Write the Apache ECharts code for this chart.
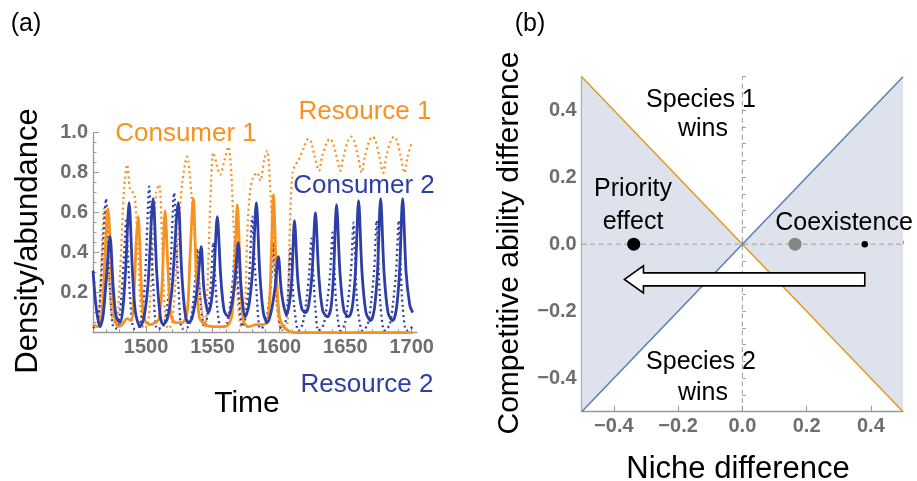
<!DOCTYPE html>
<html><head><meta charset="utf-8">
<script src="https://cdn.jsdelivr.net/npm/echarts@6/dist/echarts.min.js"></script>
<style>html,body{margin:0;padding:0;background:#fff}#c{width:917px;height:481px}</style>
</head><body><div id="c"></div>
<script>
// ---------- Panel (a) data: [time, density] ----------
const consumer1 = [[1460.0,0.04],[1463.8,0.03],[1466.8,0.10],[1469.1,0.40],[1471.3,0.62],[1473.6,0.35],[1475.8,0.10],[1478.9,0.03],[1481.9,0.04],[1485.7,0.07],[1488.7,0.06],[1490.9,0.20],[1492.5,0.45],[1494.0,0.58],[1495.5,0.40],[1497.0,0.15],[1499.2,0.06],[1503.0,0.04],[1506.8,0.05],[1509.8,0.07],[1512.1,0.25],[1514.3,0.61],[1516.6,0.30],[1518.9,0.08],[1522.6,0.05],[1527.2,0.05],[1530.9,0.10],[1533.2,0.40],[1535.5,0.67],[1537.7,0.30],[1540.0,0.08],[1544.5,0.04],[1550.6,0.03],[1557.4,0.03],[1561.9,0.04],[1564.9,0.10],[1567.2,0.40],[1568.7,0.64],[1570.9,0.30],[1573.2,0.06],[1577.0,0.03],[1583.0,0.04],[1588.3,0.04],[1592.1,0.08],[1594.3,0.40],[1595.8,0.69],[1598.1,0.30],[1600.4,0.08],[1603.4,0.03],[1607.2,0.01],[1612.5,0.0],[1700.8,0.0]];
const resource1 = [[1460.0,0.03],[1463.8,0.05],[1466.0,0.30],[1468.3,0.62],[1471.3,0.35],[1474.3,0.08],[1477.4,0.04],[1480.4,0.30],[1483.4,0.72],[1485.7,0.84],[1487.9,0.72],[1490.2,0.70],[1491.7,0.67],[1494.0,0.40],[1496.2,0.08],[1498.5,0.02],[1501.5,0.05],[1504.5,0.35],[1507.5,0.70],[1509.8,0.74],[1512.1,0.45],[1514.3,0.08],[1516.6,0.02],[1519.6,0.05],[1523.4,0.40],[1527.2,0.75],[1530.9,0.88],[1534.0,0.70],[1537.0,0.45],[1539.2,0.30],[1542.3,0.10],[1544.5,0.03],[1546.8,0.35],[1549.1,0.78],[1550.6,0.90],[1553.6,0.83],[1555.8,0.79],[1558.9,0.86],[1561.9,0.93],[1564.1,0.80],[1565.7,0.56],[1568.7,0.20],[1571.7,0.03],[1574.0,0.05],[1576.2,0.50],[1578.5,0.72],[1580.8,0.78],[1583.8,0.80],[1586.0,0.76],[1589.1,0.87],[1591.3,0.91],[1593.6,0.70],[1595.8,0.45],[1598.1,0.15],[1601.1,0.02],[1604.1,0.01],[1606.4,0.05],[1607.9,0.45],[1610.2,0.80],[1612.5,0.84],[1614.7,0.86],[1618.5,0.92],[1622.3,0.97],[1624.5,0.95],[1627.0,0.88],[1630.2,0.81],[1632.5,0.88],[1636.0,0.95],[1638.4,0.97],[1640.6,0.95],[1643.5,0.88],[1646.3,0.81],[1648.6,0.88],[1652.1,0.96],[1654.5,0.98],[1656.7,0.96],[1659.6,0.88],[1662.4,0.80],[1664.7,0.88],[1668.2,0.96],[1670.6,0.98],[1672.8,0.96],[1675.7,0.88],[1678.5,0.80],[1680.8,0.88],[1684.3,0.96],[1686.7,0.98],[1688.9,0.96],[1691.8,0.88],[1694.6,0.80],[1696.9,0.88],[1700.0,0.95]];
const consumer2 = [[1460.0,0.31],[1462.5,0.12],[1465.3,0.03],[1467.5,0.08],[1469.8,0.25],[1472.8,0.48],[1475.3,0.22],[1477.5,0.08],[1480.4,0.05],[1482.5,0.12],[1484.6,0.32],[1487.2,0.65],[1489.6,0.32],[1492.0,0.10],[1495.5,0.03],[1498.5,0.08],[1501.5,0.25],[1505.3,0.67],[1508.0,0.30],[1510.5,0.09],[1512.8,0.04],[1516.0,0.07],[1519.5,0.22],[1524.2,0.65],[1526.8,0.30],[1529.3,0.10],[1531.7,0.05],[1534.5,0.07],[1538.5,0.22],[1541.5,0.43],[1543.5,0.22],[1546.8,0.10],[1549.0,0.15],[1551.0,0.28],[1553.6,0.58],[1556.2,0.28],[1558.8,0.11],[1561.9,0.08],[1564.5,0.14],[1566.8,0.25],[1569.4,0.45],[1571.6,0.22],[1574.7,0.08],[1577.5,0.14],[1580.3,0.32],[1583.0,0.65],[1585.6,0.30],[1588.3,0.10],[1591.3,0.05],[1594.0,0.10],[1597.0,0.22],[1599.6,0.38],[1602.0,0.20],[1605.7,0.09],[1608.0,0.15],[1609.8,0.28],[1611.7,0.56],[1614.3,0.26],[1617.2,0.12],[1620.0,0.10],[1622.5,0.14],[1625.0,0.30],[1627.5,0.60],[1630.1,0.28],[1633.0,0.11],[1636.6,0.08],[1639.3,0.13],[1641.2,0.30],[1643.4,0.64],[1646.0,0.30],[1649.0,0.11],[1652.5,0.08],[1655.3,0.13],[1657.6,0.30],[1660.0,0.66],[1662.6,0.30],[1665.6,0.10],[1669.1,0.06],[1671.9,0.12],[1674.2,0.30],[1676.6,0.67],[1679.2,0.30],[1682.2,0.10],[1685.7,0.06],[1688.5,0.12],[1690.8,0.30],[1693.2,0.67],[1695.8,0.30],[1698.5,0.14],[1700.8,0.10]];
const resource2 = [[1460.0,0.03],[1462.3,0.02],[1464.3,0.08],[1466.0,0.25],[1468.0,0.50],[1469.8,0.67],[1471.3,0.45],[1472.8,0.22],[1475.1,0.03],[1478.1,0.02],[1480.0,0.08],[1481.8,0.22],[1483.5,0.40],[1484.9,0.56],[1486.4,0.38],[1487.9,0.18],[1490.9,0.02],[1494.7,0.03],[1497.5,0.12],[1499.8,0.35],[1502.3,0.73],[1504.0,0.45],[1505.3,0.25],[1508.3,0.02],[1512.8,0.03],[1515.8,0.12],[1518.5,0.35],[1521.1,0.70],[1522.8,0.45],[1524.2,0.25],[1527.2,0.02],[1531.7,0.03],[1534.5,0.10],[1536.8,0.25],[1538.5,0.42],[1540.0,0.25],[1541.5,0.12],[1543.8,0.03],[1546.0,0.08],[1548.5,0.22],[1550.6,0.45],[1552.2,0.25],[1553.6,0.12],[1556.6,0.02],[1561.1,0.05],[1563.5,0.15],[1565.5,0.28],[1567.2,0.46],[1568.8,0.28],[1570.2,0.15],[1572.5,0.03],[1575.0,0.08],[1577.5,0.25],[1580.0,0.58],[1581.5,0.38],[1583.0,0.22],[1586.0,0.02],[1589.8,0.04],[1592.5,0.15],[1594.4,0.28],[1595.8,0.45],[1597.3,0.28],[1598.9,0.15],[1601.9,0.02],[1604.9,0.05],[1606.8,0.18],[1608.7,0.42],[1610.2,0.25],[1611.7,0.12],[1614.7,0.01],[1617.7,0.04],[1620.5,0.15],[1622.8,0.30],[1624.5,0.47],[1626.0,0.28],[1627.5,0.12],[1629.8,0.01],[1633.6,0.04],[1636.3,0.15],[1638.6,0.30],[1640.4,0.50],[1641.9,0.30],[1643.4,0.13],[1646.4,0.01],[1649.4,0.04],[1652.0,0.15],[1654.4,0.32],[1656.2,0.55],[1657.7,0.32],[1659.2,0.13],[1663.0,0.01],[1666.8,0.04],[1669.4,0.15],[1671.8,0.32],[1673.6,0.56],[1675.1,0.32],[1676.6,0.13],[1679.6,0.01],[1683.4,0.04],[1686.0,0.15],[1688.4,0.32],[1690.2,0.56],[1691.7,0.32],[1693.2,0.13],[1696.2,0.01],[1700.8,0.03]];
const timeTicks = [1500, 1550, 1600, 1650, 1700];
const densityTicks = [0.2, 0.4, 0.6, 0.8, 1.0];

// ---------- Panel (b) data ----------
const nicheTicks = [-0.4, -0.2, 0, 0.2, 0.4];
const abilityTicks = [-0.4, -0.2, 0, 0.2, 0.4];
const orangeBoundary = [[-0.5, 0.5], [0.5, -0.5]];
const blueBoundary = [[-0.5, -0.5], [0.5, 0.5]];
const zeroVertical = [[0, -0.5], [0, 0.5]];
const zeroHorizontal = [[-0.5, 0], [0.5, 0]];
const pointNiche = [-0.338, 0.164, 0.381];
const pointAbility = [0, 0, 0];
const arrowFrom = [0.381, -0.105];
const arrowTo = [-0.367, -0.105];

// ---------- styles ----------
const FONT = "'Liberation Sans', Arial, Helvetica, sans-serif";
const ORANGE = '#F7911F', BLUE = '#2D3EA6';
const B_ORANGE = '#E19C24', B_BLUE = '#5E81B5', SHADE = '#DDE2EC';
const AX = '#999999', LBL = '#6E6E6E';
const labelStyle = {color: LBL, fontWeight: 'bold', fontSize: 20, fontFamily: FONT};
const fmt = v => (v < -1e-9 ? '\u2212' : '') + Math.abs(v).toFixed(1);

const timeMinor = []; for (let t = 1460; t <= 1700; t += 10) timeMinor.push(t);
const bMinor = []; for (let i = -10; i <= 10; i++) bMinor.push(i * 0.05);
const densityMinor = []; for (let i = 1; i < 20; i++) densityMinor.push(i * 0.05);

const chart = echarts.init(document.getElementById('c'), null, {renderer: 'canvas'});

function txt(text, x, y, size, color, rot) {
  return {type: 'text', x: x, y: y, rotation: rot || 0, silent: true, z: 100, zlevel: 0,
    style: {text: text, font: size + 'px ' + FONT, fill: color || '#000',
      textAlign: 'center', textVerticalAlign: 'middle', align: 'center', verticalAlign: 'middle'}};
}

const option = {
  animation: false,
  backgroundColor: '#fff',
  grid: [
    {left: 93, top: 132.7, width: 324, height: 200},
    {left: 581.7, top: 76.7, width: 321.3, height: 335}
  ],
  xAxis: [
    {gridIndex: 0, type: 'value', min: 1460, max: 1704, position: 'bottom',
      axisLine: {show: true, onZero: false, lineStyle: {color: AX, width: 1.3}},
      axisTick: {show: true, inside: true, length: 6, customValues: timeTicks, lineStyle: {color: AX}},
      axisLabel: Object.assign({show: true, customValues: timeTicks, margin: 5, formatter: v => String(v)}, labelStyle),
      splitLine: {show: false}},
    {gridIndex: 0, type: 'value', min: 1460, max: 1704, position: 'bottom',
      axisLine: {show: false}, axisLabel: {show: false}, splitLine: {show: false},
      axisTick: {show: true, inside: true, length: 3.5, customValues: timeMinor, lineStyle: {color: AX}}},
    {gridIndex: 1, type: 'value', min: -0.5, max: 0.5, position: 'bottom',
      axisLine: {show: true, onZero: false, lineStyle: {color: AX, width: 1.3}},
      axisTick: {show: true, inside: true, length: 6, customValues: nicheTicks, lineStyle: {color: AX}},
      axisLabel: Object.assign({show: true, customValues: nicheTicks, margin: 5, formatter: fmt}, labelStyle),
      splitLine: {show: false}},
    {gridIndex: 1, type: 'value', min: -0.5, max: 0.5, position: 'bottom',
      axisLine: {show: false}, axisLabel: {show: false}, splitLine: {show: false},
      axisTick: {show: true, inside: true, length: 3.5, customValues: bMinor, lineStyle: {color: AX}}}
  ],
  yAxis: [
    {gridIndex: 0, type: 'value', min: 0, max: 1, position: 'left',
      axisLine: {show: true, onZero: false, lineStyle: {color: AX, width: 1.3}},
      axisTick: {show: true, inside: true, length: 6, customValues: densityTicks, lineStyle: {color: AX}},
      axisLabel: Object.assign({show: true, customValues: densityTicks, margin: 5, formatter: v => v.toFixed(1)}, labelStyle),
      splitLine: {show: false}},
    {gridIndex: 1, type: 'value', min: -0.5, max: 0.5, position: 'left',
      axisLine: {show: true, onZero: false, lineStyle: {color: AX, width: 1.3}},
      axisTick: {show: true, inside: true, length: 6, customValues: abilityTicks, lineStyle: {color: AX}},
      axisLabel: Object.assign({show: true, customValues: abilityTicks, margin: 5, formatter: fmt}, labelStyle),
      splitLine: {show: false}},
    {gridIndex: 1, type: 'value', min: -0.5, max: 0.5, position: 'left',
      axisLine: {show: false}, axisLabel: {show: false}, splitLine: {show: false},
      axisTick: {show: true, inside: true, length: 3.5, customValues: bMinor, lineStyle: {color: AX}}},
    {gridIndex: 0, type: 'value', min: 0, max: 1, position: 'left',
      axisLine: {show: false}, axisLabel: {show: false}, splitLine: {show: false},
      axisTick: {show: true, inside: true, length: 3.5, customValues: densityMinor, lineStyle: {color: AX}}}
  ],
  series: [
    {type: 'line', name: 'Resource 1', xAxisIndex: 0, yAxisIndex: 0, data: resource1, smooth: 0.3, symbol: 'none', z: 2,
      lineStyle: {color: ORANGE, width: 2.3, type: [2, 3.2]}},
    {type: 'line', name: 'Resource 2', xAxisIndex: 0, yAxisIndex: 0, data: resource2, smooth: 0.3, symbol: 'none', z: 2,
      lineStyle: {color: BLUE, width: 2.3, type: [2, 3.2]}},
    {type: 'line', name: 'Consumer 1', xAxisIndex: 0, yAxisIndex: 0, data: consumer1, smooth: 0.3, symbol: 'none', z: 3,
      lineStyle: {color: ORANGE, width: 2.8}},
    {type: 'line', name: 'Consumer 2', xAxisIndex: 0, yAxisIndex: 0, data: consumer2, smooth: 0.3, symbol: 'none', z: 3,
      lineStyle: {color: BLUE, width: 2.8}},

    {type: 'line', xAxisIndex: 2, yAxisIndex: 1, data: orangeBoundary, symbol: 'none', z: 1, silent: true,
      lineStyle: {opacity: 0, width: 0}, areaStyle: {color: SHADE, opacity: 1}},
    {type: 'line', xAxisIndex: 2, yAxisIndex: 1, data: blueBoundary, symbol: 'none', z: 1, silent: true,
      lineStyle: {opacity: 0, width: 0}, areaStyle: {color: SHADE, opacity: 1}},
    {type: 'line', xAxisIndex: 2, yAxisIndex: 1, data: zeroVertical, symbol: 'none', z: 2,
      lineStyle: {color: '#9a9a9a', width: 1, type: [5, 3.5]}},
    {type: 'line', xAxisIndex: 2, yAxisIndex: 1, data: zeroHorizontal, symbol: 'none', z: 2,
      lineStyle: {color: '#9a9a9a', width: 1, type: [5, 3.5]}},
    {type: 'line', xAxisIndex: 2, yAxisIndex: 1, data: orangeBoundary, symbol: 'none', z: 3,
      lineStyle: {color: B_ORANGE, width: 1.6}},
    {type: 'line', xAxisIndex: 2, yAxisIndex: 1, data: blueBoundary, symbol: 'none', z: 3,
      lineStyle: {color: B_BLUE, width: 1.6}},
    {type: 'scatter', xAxisIndex: 2, yAxisIndex: 1, z: 4,
      data: pointNiche.map((x, i) => ({value: [x, pointAbility[i]],
        symbolSize: [13, 13, 6.5][i], itemStyle: {color: ['#000000', '#858585', '#000000'][i], opacity: 1}}))},
    {type: 'custom', xAxisIndex: 2, yAxisIndex: 1, z: 5, clip: false,
      data: [[arrowFrom[0], arrowFrom[1], arrowTo[0], arrowTo[1]]],
      encode: {x: [0, 2], y: [1, 3]},
      renderItem: (params, api) => {
        const a = api.coord([api.value(0), api.value(1)]);
        const b = api.coord([api.value(2), api.value(3)]);
        const y = a[1], tail = a[0], tip = b[0], hl = 19, hh = 13.5, sh = 6.5;
        return {type: 'polygon',
          shape: {points: [[tip, y], [tip + hl, y - hh], [tip + hl, y - sh], [tail, y - sh], [tail, y + sh], [tip + hl, y + sh], [tip + hl, y + hh]]},
          style: {fill: '#fff', stroke: '#000', lineWidth: 1.6}};
      }}
  ],
  graphic: {elements: [
    txt('(a)', 26, 24, 25),
    txt('(b)', 530, 24, 25),
    txt('Density/abundance', 28.5, 241, 31, '#000', Math.PI / 2),
    txt('Time', 247, 404, 30),
    txt('Resource 1', 365, 111.5, 26, ORANGE),
    txt('Consumer 1', 186, 134, 26, ORANGE),
    txt('Consumer 2', 364, 185.5, 26, BLUE),
    txt('Resource 2', 367, 384.5, 26, BLUE),
    txt('Competitive ability difference', 509.5, 243, 30, '#000', Math.PI / 2),
    txt('Niche difference', 738, 469.5, 31),
    txt('Species 1', 701, 100, 25),
    txt('wins', 703, 129, 25),
    txt('Priority', 633, 189, 25),
    txt('effect', 633, 222, 25),
    txt('Coexistence', 844, 223, 25),
    txt('Species 2', 701, 362, 25),
    txt('wins', 703, 393, 25)
  ]}
};
chart.setOption(option);
</script>
</body></html>
